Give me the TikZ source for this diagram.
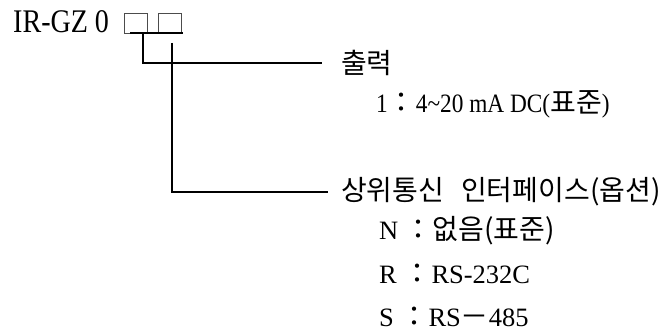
\documentclass[tikz,border=0pt]{standalone}
\usepackage{fontspec}
\setmainfont{Liberation Serif}
\newfontfamily\titlefont{Liberation Serif}[FakeStretch=0.85]
\newfontfamily\latc{Liberation Serif}[FakeStretch=0.88]
\newfontfamily\kr{Noto Sans CJK KR}
\begin{document}
\begin{tikzpicture}[x=1pt,y=1pt,
  lbl/.style={anchor=west,inner sep=0pt,font=\fontsize{26.5}{28}\selectfont},
  boxy/.style={draw=black!70,line width=0.9pt,minimum width=23pt,minimum height=20pt,inner sep=0pt},
  conn/.style={line width=1.6pt}]
\useasboundingbox (0,0) rectangle (670,331);
% title
\node[lbl,font=\titlefont\fontsize{33}{35}\selectfont] (title) at (13,309) {IR-GZ 0};
\node[boxy] (b1) at (136,308) {};
\node[boxy] (b2) at (169.5,308) {};
\coordinate (u1) at (130,298);
\coordinate (u2) at (183,298);
\draw[line width=1.2pt] (u1) -- (u2);
% labels
\newcommand{\K}[1]{{\kr\fontsize{28}{30}\selectfont #1}}
\node[lbl] (out) at (341,268) {\K{출력}};
\node[lbl,font=\latc\fontsize{26.5}{28}\selectfont] (out1) at (376,227) {1\K{：}4\textasciitilde20 mA DC(\K{표준})};
\node[lbl] (comm) at (341,139) {\K{상위통신\hspace{17pt}인터페이스(옵션)}};
\node[lbl] (cN) at (379,100) {N \K{：없음(표준)}};
\node[lbl] (cR) at (379,57) {R \K{：}RS-232C};
\node[lbl] (cS) at (379,14) {S \K{：}RS\K{－}485};
% connectors
\coordinate (s1) at (143,298);
\coordinate (s2) at (172,288);
\coordinate (e1) at (322,268);
\coordinate (e2) at (328,139);
\draw[conn] (s1) |- (e1);
\draw[conn] (s2) |- (e2);
\end{tikzpicture}
\end{document}
